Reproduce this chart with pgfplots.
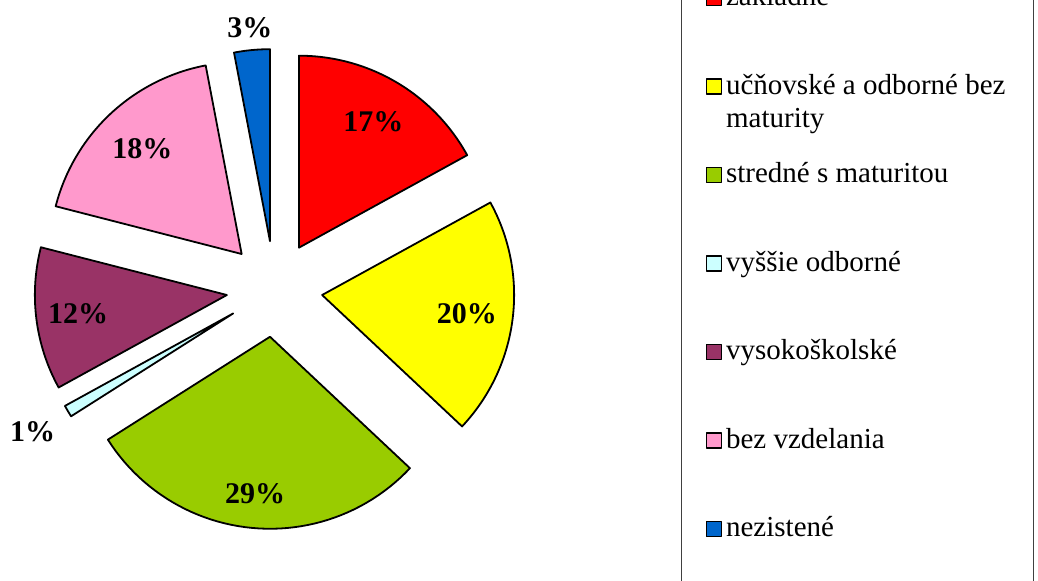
\documentclass[border=0pt]{standalone}
\usepackage{pgfplots}
\pgfplotsset{compat=1.18}
\usepackage{fontspec}
\setmainfont{Liberation Serif}
\definecolor{cRed}{HTML}{FF0000}
\definecolor{cYellow}{HTML}{FFFF00}
\definecolor{cGreen}{HTML}{99CC00}
\definecolor{cCyan}{HTML}{CCFFFF}
\definecolor{cPurple}{HTML}{993366}
\definecolor{cPink}{HTML}{FF99CC}
\definecolor{cBlue}{HTML}{0066CC}
% #1 start (%), #2 value (%), #3 colour, #4 label distance from centre, #5 legend text
\newcommand{\pieslice}[5]{%
  \pgfmathsetmacro{\sa}{3.6*#1}%
  \pgfmathsetmacro{\sb}{3.6*(#1+#2)}%
  \pgfmathsetmacro{\sm}{(\sa+\sb)/2}%
  \pgfmathsetmacro{\ox}{274.5+48*sin(\sm)}%
  \pgfmathsetmacro{\oy}{292+48*cos(\sm)}%
  \pgfmathsetmacro{\lx}{274.5+#4*sin(\sm)}%
  \pgfmathsetmacro{\ly}{292+#4*cos(\sm)}%
  \addplot[fill=#3, draw=black, line width=0.9pt, line join=round, line cap=round,
    domain=-1:51, samples=53, variable=\t]
    ({\ox + ((\t<-0.5)||(\t>50.5) ? 0 : 192)*sin(\sa+(\sb-\sa)*min(max(\t,0),50)/50)},
     {\oy + ((\t<-0.5)||(\t>50.5) ? 0 : 192)*cos(\sa+(\sb-\sa)*min(max(\t,0),50)/50)});
  \addlegendentry{#5}
  \edef\temp{\noexpand\node[font=\noexpand\fontsize{15}{17}\noexpand\selectfont\noexpand\bfseries] at (axis cs:\lx,\ly) {#2\noexpand\%};}%
  \temp
}
\begin{document}
\begin{tikzpicture}
\begin{axis}[at={(0,0)}, anchor=south west, scale only axis,
  width=519pt, height=290.5pt,
  xmin=0, xmax=1038, ymin=0, ymax=581,
  hide axis, clip=false,
  legend image code/.code={\draw[#1, line width=0.8pt] (0pt,0pt) rectangle (7.5pt,7.5pt);},
  legend style={at={(axis cs:681,320)}, anchor=west, draw=black!75, line width=0.5pt,
    inner xsep=12pt, inner ysep=40pt, row sep=27.2pt,
    font=\fontsize{14.5}{16.5}\selectfont,
    cells={anchor=base west, inner sep=2pt}},
]
\pieslice{0}{17}{cRed}{194}{\strut základné}
\pieslice{17}{20}{cYellow}{194}{\vtop{\hbox{\strut učňovské a odborné bez}\hbox{\strut maturity}}}
\pieslice{37}{29}{cGreen}{206}{\strut stredné s maturitou}
\pieslice{66}{1}{cCyan}{281}{\strut vyššie odborné}
\pieslice{67}{12}{cPurple}{198}{\strut vysokoškolské}
\pieslice{79}{18}{cPink}{193}{\strut bez vzdelania}
\pieslice{97}{3}{cBlue}{262}{\strut nezistené}
\end{axis}
\pgfresetboundingbox
\path (0,0) rectangle (519pt,290.5pt);
\end{tikzpicture}
\end{document}
